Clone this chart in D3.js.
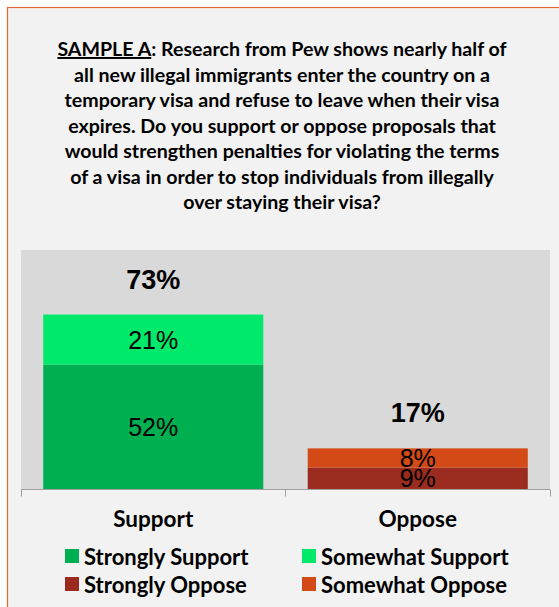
<!DOCTYPE html>
<html>
<head>
<meta charset="utf-8">
<script src="https://cdn.jsdelivr.net/npm/d3@7"></script>
<style>
  html, body { margin: 0; padding: 0; background: #ffffff; }
  svg { display: block; }
</style>
</head>
<body>
<svg id="chart" width="559" height="607"></svg>
<script>
// ---- data ----
const categories = ["Support", "Oppose"];
const strongly = [52, 9];
const somewhat = [21, 8];
const totals = [73, 17];
const seriesKeys = ["Strongly", "Somewhat"];
const legendLabels = ["Strongly Support", "Somewhat Support", "Strongly Oppose", "Somewhat Oppose"];
const titleLines = [
  "all new illegal immigrants enter the country on a",
  "temporary visa and refuse to leave when their visa",
  "expires. Do you support or oppose proposals that",
  "would strengthen penalties for violating the terms",
  "of a visa in order to stop individuals from illegally",
  "over staying their visa?"
];
const titleLead = "SAMPLE A";
const titleRest = ": Research from Pew shows nearly half of";

// colours per category per series
const colors = {
  Support: { Strongly: "#00b050", Somewhat: "#00e96b" },
  Oppose:  { Strongly: "#9b2b1f", Somewhat: "#d34a17" }
};
const legendColors = ["#00b050", "#00e96b", "#9b2b1f", "#d34a17"];

const svg = d3.select("#chart");
const calibri = "Lato, 'Open Sans', sans-serif";
const arial = "'Liberation Sans', Arial, sans-serif";

// outer frame
svg.append("rect").attr("x", 7.5).attr("y", 7.5).attr("width", 700).attr("height", 700)
  .attr("fill", "#f2f2f2").attr("stroke", "#e0693a").attr("stroke-width", 1.2);

// title
const title = svg.append("text")
  .attr("text-anchor", "middle")
  .attr("font-family", calibri).attr("font-weight", "bold")
  .attr("font-size", 19.6).attr("fill", "#000");
const t0 = title.append("tspan").attr("x", 282).attr("y", 56);
t0.append("tspan").attr("text-decoration", "underline").text(titleLead);
t0.append("tspan").text(titleRest);
titleLines.forEach((l, i) => {
  title.append("tspan").attr("x", 282).attr("y", 56 + 25.5 * (i + 1)).text(l);
});

// plot area
const plot = { left: 21, right: 550, top: 250, bottom: 489 };
svg.append("rect").attr("x", plot.left).attr("y", plot.top)
  .attr("width", plot.right - plot.left).attr("height", plot.bottom - plot.top)
  .attr("fill", "#d9d9d9");

const x = d3.scaleBand().domain(categories).range([plot.left, plot.right])
  .paddingInner(0.168).paddingOuter(0.084);
const y = d3.scaleLinear().domain([0, 100]).range([plot.bottom, plot.top]);

const table = categories.map((c, i) => ({ category: c, Strongly: strongly[i], Somewhat: somewhat[i], total: totals[i] }));
const stacked = d3.stack().keys(seriesKeys)(table);

stacked.forEach(layer => {
  svg.append("g").selectAll("rect").data(layer).join("rect")
    .attr("x", d => x(d.data.category))
    .attr("width", x.bandwidth())
    .attr("y", d => y(d[1]))
    .attr("height", d => y(d[0]) - y(d[1]))
    .attr("fill", d => colors[d.data.category][layer.key]);
});

// segment labels
stacked.forEach(layer => {
  svg.append("g").selectAll("text").data(layer).join("text")
    .attr("x", d => x(d.data.category) + x.bandwidth() / 2)
    .attr("y", d => (y(d[0]) + y(d[1])) / 2 + 9)
    .attr("text-anchor", "middle")
    .attr("font-family", arial).attr("font-size", 25).attr("fill", "#000")
    .text(d => (d[1] - d[0]) + "%");
});

// totals
svg.append("g").selectAll("text").data(table).join("text")
  .attr("x", d => x(d.category) + x.bandwidth() / 2)
  .attr("y", d => y(d.total) - 26)
  .attr("text-anchor", "middle")
  .attr("font-family", arial).attr("font-weight", "bold").attr("font-size", 27).attr("fill", "#000")
  .text(d => d.total + "%");

// axis
const axisG = svg.append("g").attr("transform", `translate(0,${plot.bottom + 0.5})`);
axisG.append("line").attr("x1", plot.left).attr("x2", plot.right).attr("stroke", "#a0a0a0");
const tickXs = [plot.left, ...categories.slice(1).map(c => x(c) - x.step() * x.paddingInner() / 2), plot.right];
axisG.selectAll("line.tick").data(tickXs).join("line").attr("class", "tick")
  .attr("x1", d => Math.round(d) + 0.5).attr("x2", d => Math.round(d) + 0.5)
  .attr("y1", 0).attr("y2", 7).attr("stroke", "#a0a0a0");

// category labels
svg.append("g").selectAll("text").data(categories).join("text")
  .attr("x", d => x(d) + x.bandwidth() / 2)
  .attr("y", 527)
  .attr("text-anchor", "middle")
  .attr("font-family", calibri).attr("font-weight", "bold").attr("font-size", 22.5).attr("fill", "#000")
  .text(d => d);

// legend
const legCols = [65, 302], legRows = [549, 577];
const leg = svg.append("g").selectAll("g").data(legendLabels).join("g")
  .attr("transform", (d, i) => `translate(${legCols[i % 2]},${legRows[Math.floor(i / 2)]})`);
leg.append("rect").attr("width", 14).attr("height", 14).attr("fill", (d, i) => legendColors[i]);
leg.append("text").attr("x", 19).attr("y", 16)
  .attr("font-family", calibri).attr("font-weight", "bold").attr("font-size", 22).attr("fill", "#000")
  .text(d => d);
</script>
</body>
</html>
